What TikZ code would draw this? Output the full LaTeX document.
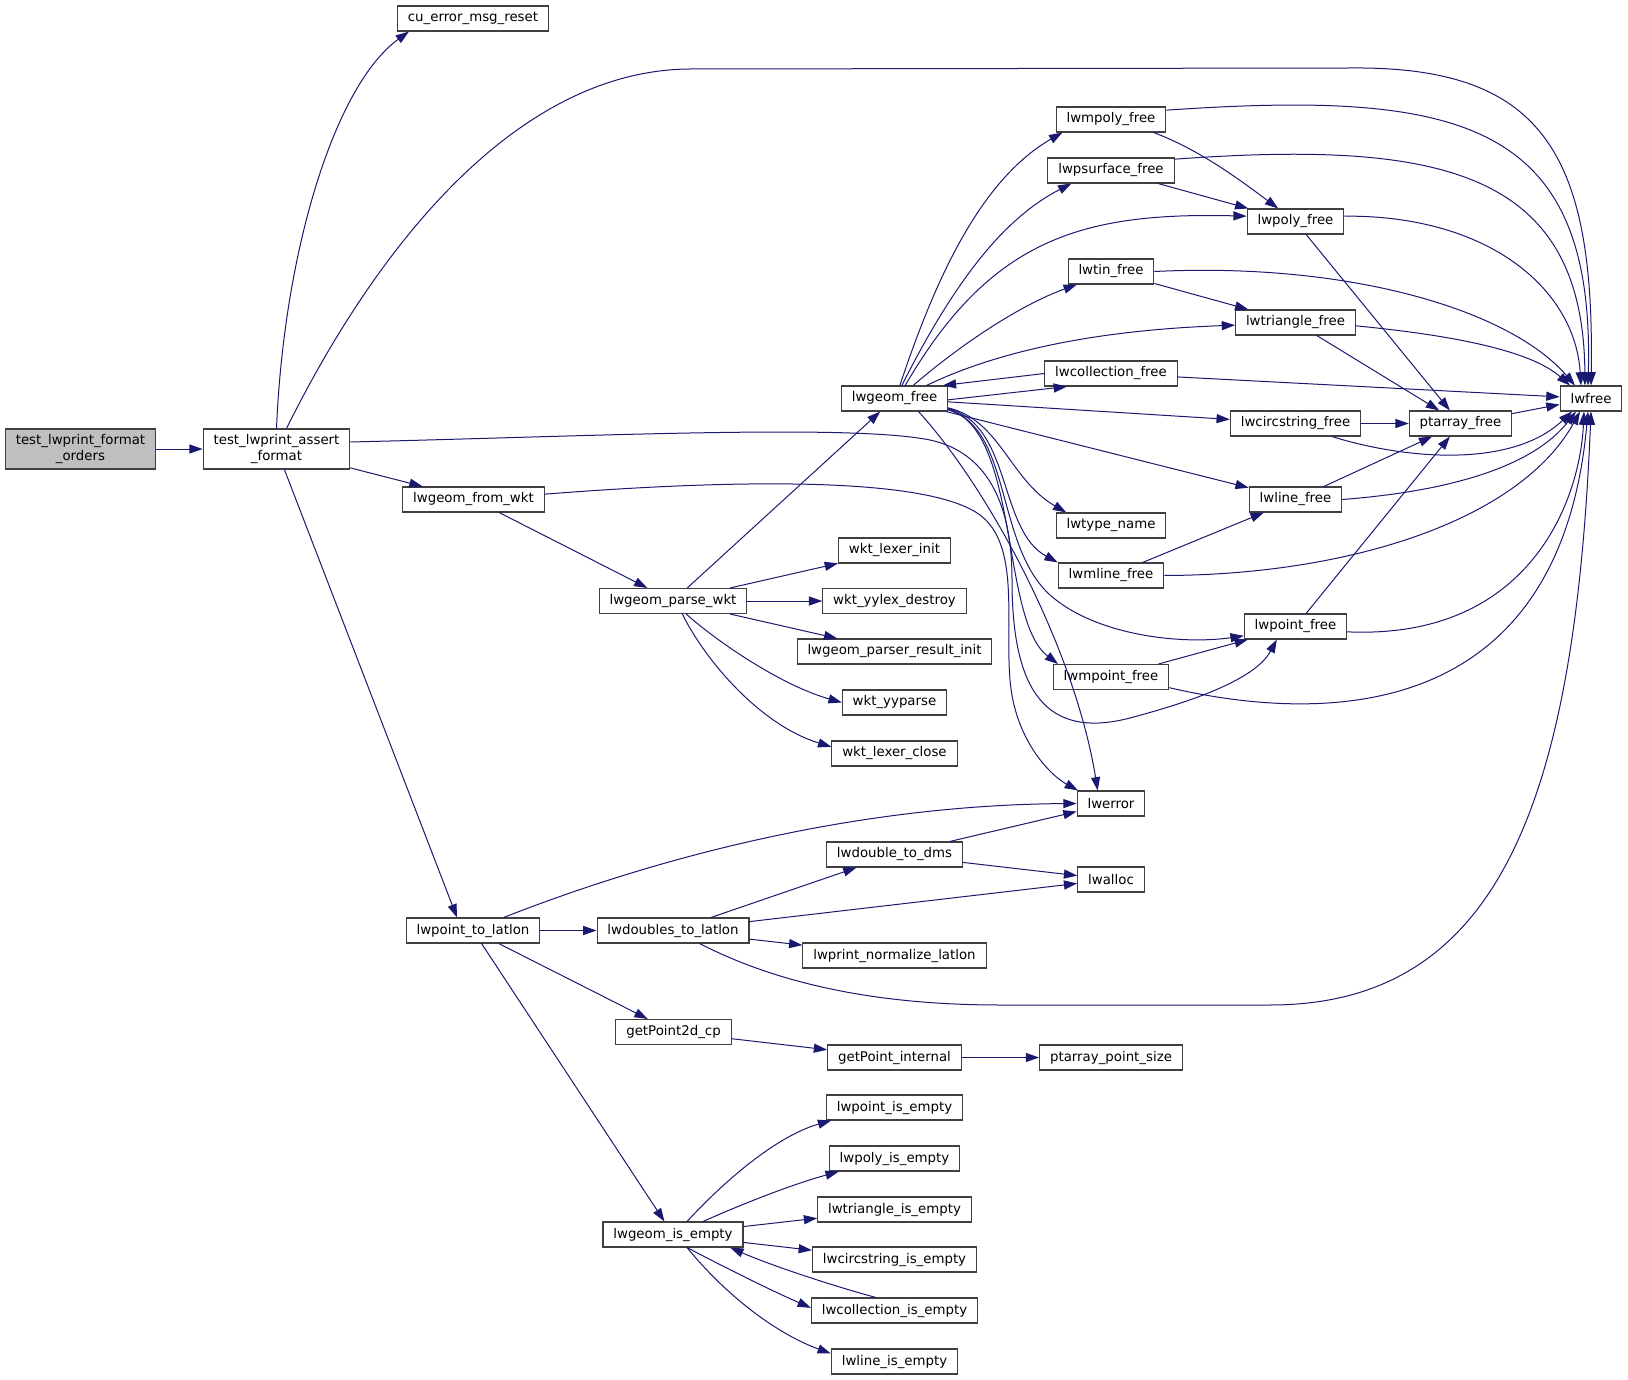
\documentclass[tikz,border=0pt]{standalone}
\usepackage{fontspec}
\setmainfont{DejaVu Sans}
\usetikzlibrary{arrows.meta}
\definecolor{edgeblue}{RGB}{25,25,112}

\begin{document}
\begin{tikzpicture}[x=0.75pt,y=-0.75pt, % flip y axis, one unit is one pixel
    fn/.style={draw=black!75,line width=0.8pt,fill=white,font=\fontsize{10}{11.5}\selectfont,
      inner xsep=7.8pt,inner ysep=0pt,minimum height=18.75pt},
    fn2/.style={fn,align=center,minimum height=30pt},
    call/.style={edgeblue,line width=0.75pt,-{Triangle[length=10pt,width=6.8pt]}}]
  \useasboundingbox (0,0) rectangle (1628,1380);

  % callers
  \node[fn2,fill=black!25] (orders) at (80.5,449) {test\_lwprint\_format\\\_orders};
  \node[fn2] (assert) at (276.5,449) {test\_lwprint\_assert\\\_format};
  \node[fn] (cu) at (473,18.5) {cu\_error\_msg\_reset};
  \node[fn] (wkt) at (473.5,499.5) {lwgeom\_from\_wkt};
  \node[fn] (latlon) at (473,930.5) {lwpoint\_to\_latlon};
  \node[fn] (parse) at (673,601) {lwgeom\_parse\_wkt};
  \node[fn] (doubles) at (673,930.5) {lwdoubles\_to\_latlon};
  \node[fn] (p2d) at (673.5,1032) {getPoint2d\_cp};
  \node[fn] (isempty) at (673,1234.5) {lwgeom\_is\_empty};
  \node[fn] (gfree) at (894.5,398.5) {lwgeom\_free};
  \foreach \n/\t/\y in {lexinit/wkt\_lexer\_init/550.5, lexdestroy/wkt\_yylex\_destroy/601,
      resinit/lwgeom\_parser\_result\_init/651.5, yyparse/wkt\_yyparse/702.5,
      lexclose/wkt\_lexer\_close/753.5, dms/lwdouble\_to\_dms/854.5,
      normalize/lwprint\_normalize\_latlon/955.5, ptint/getPoint\_internal/1057.5}
    \node[fn] (\n) at (894.5,\y) {\t};
  \foreach \n/\t/\y in {ptempty/lwpoint\_is\_empty/1107.5, polyempty/lwpoly\_is\_empty/1158.5,
      triempty/lwtriangle\_is\_empty/1209.5, circempty/lwcircstring\_is\_empty/1259.5,
      collempty/lwcollection\_is\_empty/1310.5, lineempty/lwline\_is\_empty/1361.5}
    \node[fn] (\n) at (894.5,\y) {\t};
  \foreach \n/\t/\y in {mpoly/lwmpoly\_free/119.5, psurf/lwpsurface\_free/170.5,
      tin/lwtin\_free/271.5, coll/lwcollection\_free/373.5, typename/lwtype\_name/525.5,
      mline/lwmline\_free/575.5, mpoint/lwmpoint\_free/677, lwerror/lwerror/803.5,
      lwalloc/lwalloc/879.5, ptsize/ptarray\_point\_size/1057.5}
    \node[fn] (\n) at (1111,\y) {\t};
  \foreach \n/\t/\y in {poly/lwpoly\_free/221.5, tri/lwtriangle\_free/322.5,
      circ/lwcircstring\_free/423.5, line/lwline\_free/499.5, point/lwpoint\_free/626.5}
    \node[fn] (\n) at (1295.5,\y) {\t};
  \node[fn] (ptfree) at (1460.5,423.5) {ptarray\_free};
  \node[fn] (lwfree) at (1591,398.5) {lwfree};

  % test functions
  \draw[call] (orders) -- (assert);
  \draw[call] (assert.north) .. controls (284,250) and (335,85) .. ([xshift=9pt]cu.south west);
  \draw[call] ([xshift=7.5pt]assert.north) .. controls (380,240) and (520,70) .. (690,69)
    -- (1350,68) .. controls (1540,66) and (1595,150) .. (lwfree.north);
  \draw[call] (assert) -- (wkt);
  \draw[call] (assert) -- ([xshift=-12pt]latlon.north);
  \draw[call] ([yshift=5.25pt]assert.east) .. controls (600,436) and (850,424) .. (930,440)
    .. controls (985,452) and (1012,500) .. (1012,580)
    .. controls (1012,690) and (1045,740) .. (1130,718)
    .. controls (1190,702) and (1255,680) .. ([xshift=-14pt]point.south);

  % wkt parsing
  \draw[call] (wkt) -- (parse);
  \draw[call] ([yshift=4pt]wkt.east) .. controls (750,478) and (930,478) .. (980,515)
    .. controls (1020,545) and (1005,620) .. (1010,680)
    .. controls (1015,740) and (1050,775) .. ([xshift=-24.75pt]lwerror.north);
  \draw[call] (parse) -- (gfree);
  \foreach \n in {lexinit,lexdestroy,resinit}
    \draw[call] (parse) -- (\n);
  \draw[call] ([xshift=10pt]parse.south) .. controls (715,640) and (780,685) .. (yyparse.west);
  \draw[call] ([xshift=7pt]parse.south) .. controls (705,660) and (760,725) .. ([yshift=5pt]lexclose.west);

  % lwgeom_free
  \draw[call] ([xshift=4pt]gfree.north) .. controls (935,280) and (980,180) .. ([xshift=5pt]mpoly.south west);
  \draw[call] ([xshift=5.5pt]gfree.north) .. controls (960,270) and (1010,215) .. ([xshift=18pt]psurf.south west);
  \draw[call] ([xshift=8pt]gfree.north) .. controls (990,240) and (1080,212) .. ([yshift=4pt]poly.west);
  \draw[call] ([xshift=14pt]gfree.north) .. controls (960,345) and (1020,305) .. ([xshift=7pt]tin.south west);
  \draw[call] ([xshift=24pt]gfree.north) .. controls (1000,350) and (1100,330) .. ([yshift=-2pt]tri.west);
  \draw[call] (coll.west) -- ([xshift=-4pt]gfree.north east);
  \draw[call] ([yshift=-1pt]gfree.east) -- ([xshift=17pt]coll.south west);
  \draw[call] (gfree) -- (circ);
  \draw[call] (gfree) -- (line);
  \draw[call] ([yshift=-7pt]gfree.east) .. controls (1000,420) and (1010,480) .. ([xshift=8pt]typename.north west);
  \draw[call] ([yshift=-7.5pt]gfree.east) .. controls (1012,425) and (998,530) .. (mline.north west);
  \draw[call] ([yshift=-8pt]gfree.east) .. controls (1020,430) and (1000,620) .. ([xshift=4pt]mpoint.north west);
  \draw[call] ([yshift=-8.5pt]gfree.east) .. controls (1012,428) and (995,545) .. (1050,595)
    .. controls (1095,635) and (1180,645) .. ([yshift=-7pt]point.west);
  \draw[call] ([xshift=18pt]gfree.south) .. controls (990,490) and (1075,650) .. ([xshift=-10pt]lwerror.north);

  % geometry free functions
  \draw[call] ([yshift=7pt]mpoly.east) .. controls (1460,90) and (1595,120) .. ([xshift=-2.25pt]lwfree.north);
  \draw[call] ([xshift=32pt]mpoly.south) .. controls (1200,150) and (1240,180) .. ([xshift=-13pt]poly.north);
  \draw[call] ([yshift=8.5pt]psurf.east) .. controls (1440,140) and (1583,170) .. ([xshift=-4.5pt]lwfree.north);
  \draw[call] (psurf) -- (poly);
  \draw[call] ([yshift=4pt]poly.east) .. controls (1490,215) and (1575,290) .. ([xshift=-7.5pt]lwfree.north);
  \draw[call] (poly) -- (ptfree);
  \draw[call] (tin.east) .. controls (1350,262) and (1510,310) .. ([xshift=-12pt]lwfree.north);
  \draw[call] (tin) -- (tri);
  \draw[call] ([yshift=-2.5pt]tri.east) .. controls (1450,335) and (1530,350) .. ([xshift=-15.75pt]lwfree.north);
  \draw[call] (tri) -- (ptfree);
  \draw[call] (coll) -- (lwfree);
  \draw[call] (circ) -- (ptfree);
  \draw[call] ([xshift=27.4pt]circ.south) .. controls (1400,458) and (1510,470) .. ([xshift=-14.25pt]lwfree.south);
  \draw[call] (ptfree) -- (lwfree);
  \draw[call] (line) -- (ptfree);
  \draw[call] (line.east) .. controls (1440,492) and (1530,470) .. ([xshift=-11.25pt]lwfree.south);
  \draw[call] (mline) -- (line);
  \draw[call] (mline.east) .. controls (1350,575) and (1520,520) .. ([xshift=-8.25pt]lwfree.south);
  \draw[call] (point) -- (ptfree);
  \draw[call] ([yshift=-4pt]point.east) .. controls (1530,640) and (1580,500) .. ([xshift=-5.25pt]lwfree.south);
  \draw[call] (mpoint) -- (point);
  \draw[call] ([yshift=-8pt]mpoint.east) .. controls (1330,725) and (1560,720) .. ([xshift=-2.25pt]lwfree.south);

  % lat/lon printing
  \draw[call] ([xshift=23pt]latlon.north) .. controls (650,860) and (850,805) .. (lwerror.west);
  \draw[call] (latlon) -- (doubles);
  \draw[call] (latlon) -- (p2d);
  \draw[call] (latlon) -- (isempty);
  \draw[call] (doubles) -- (dms);
  \draw[call] (doubles) -- (lwalloc);
  \draw[call] (doubles) -- (normalize);
  \draw[call] ([xshift=20pt]doubles.south) .. controls (780,985) and (880,1005) .. (1000,1005)
    -- (1270,1005) .. controls (1500,1005) and (1575,800) .. (lwfree.south);
  \draw[call] (dms) -- (lwerror);
  \draw[call] (dms) -- (lwalloc);
  \draw[call] (p2d) -- (ptint);
  \draw[call] (ptint) -- (ptsize);

  % emptiness checks
  \draw[call] ([xshift=10.5pt]isempty.north) .. controls (730,1175) and (780,1135) .. ([xshift=4pt]ptempty.south west);
  \draw[call] ([xshift=22.5pt]isempty.north) .. controls (740,1205) and (790,1185) .. ([xshift=7.5pt]polyempty.south west);
  \draw[call] (isempty) -- (triempty);
  \draw[call] (isempty) -- (circempty);
  \draw[call] ([xshift=-14pt]collempty.north) .. controls (830,1285) and (770,1265) .. ([xshift=-10pt]isempty.south east);
  \draw[call] ([xshift=10.5pt]isempty.south) .. controls (720,1265) and (770,1290) .. ([yshift=2pt]collempty.west);
  \draw[call] ([xshift=10.5pt]isempty.south) .. controls (730,1300) and (780,1335) .. ([yshift=6pt]lineempty.west);
\end{tikzpicture}
\end{document}
